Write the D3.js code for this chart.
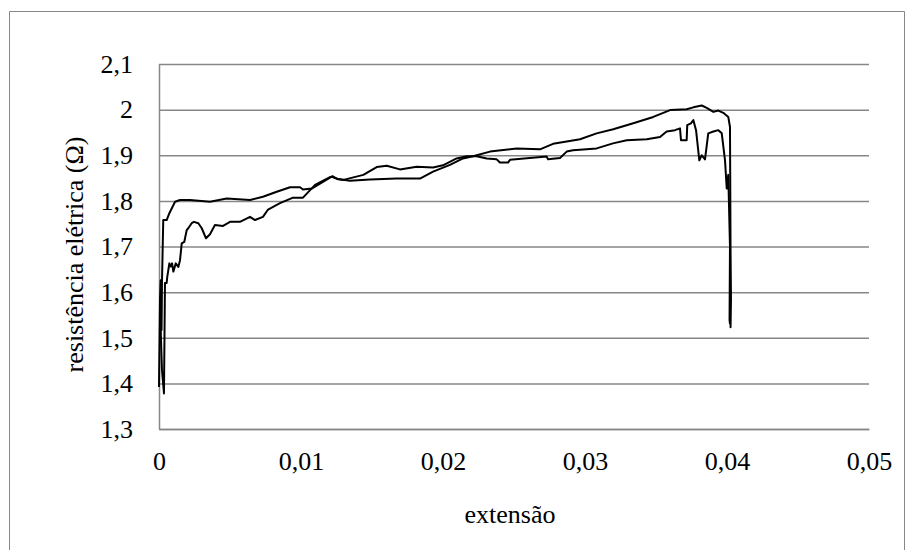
<!DOCTYPE html>
<html>
<head>
<meta charset="utf-8">
<script src="https://cdn.jsdelivr.net/npm/d3@7"></script>
<style>
  body { margin: 0; background: #fff; }
  svg { display: block; font-family: "Liberation Serif", "Times New Roman", serif; }
</style>
</head>
<body>
<svg id="graph" width="911" height="550"></svg>
<script>
// curve that starts higher (ends on top, ~2.0)
const serieA = [
  [0, 1.392], [0.00007, 1.583], [0.00012, 1.626], [0.00018, 1.517], [0.00021, 1.622],
  [0.0003, 1.758], [0.00054, 1.758], [0.00073, 1.773], [0.00113, 1.798], [0.00148, 1.802],
  [0.00218, 1.802], [0.00359, 1.798], [0.00477, 1.805], [0.00641, 1.802], [0.00732, 1.809],
  [0.00829, 1.82], [0.00923, 1.83], [0.00993, 1.83], [0.01014, 1.825], [0.01075, 1.827],
  [0.01134, 1.838], [0.01216, 1.853], [0.01261, 1.848], [0.01345, 1.844], [0.01486, 1.847],
  [0.01674, 1.849], [0.01838, 1.849], [0.0193, 1.864], [0.02049, 1.879], [0.02141, 1.893],
  [0.02211, 1.898], [0.02331, 1.908], [0.02519, 1.915], [0.02683, 1.913], [0.02775, 1.925],
  [0.02871, 1.93], [0.02965, 1.935], [0.03082, 1.948], [0.03199, 1.957], [0.0334, 1.97],
  [0.03481, 1.984], [0.03599, 1.999], [0.03716, 2.001], [0.03763, 2.005], [0.03822, 2.009],
  [0.03857, 2.004], [0.03904, 1.995], [0.03939, 1.998], [0.03974, 1.993], [0.04009, 1.984],
  [0.04021, 1.962], [0.04025, 1.692], [0.04028, 1.582], [0.04025, 1.523], [0.04028, 1.604],
  [0.04026, 1.55]
];

// curve that starts lower (ends with the dips)
const serieB = [
  [0.00007, 1.589], [0.00014, 1.495], [0.00021, 1.429], [0.00035, 1.378], [0.00042, 1.62],
  [0.00054, 1.62], [0.00058, 1.633], [0.00073, 1.663], [0.00082, 1.656], [0.00092, 1.663],
  [0.00101, 1.645], [0.00118, 1.663], [0.00136, 1.655], [0.00148, 1.67], [0.0016, 1.707],
  [0.00178, 1.71], [0.00195, 1.736], [0.00206, 1.74], [0.0023, 1.751], [0.00246, 1.754],
  [0.00277, 1.751], [0.00301, 1.74], [0.00331, 1.718], [0.00359, 1.727], [0.00394, 1.747],
  [0.00451, 1.745], [0.005, 1.754], [0.0057, 1.754], [0.00641, 1.765], [0.00676, 1.758],
  [0.00732, 1.765], [0.00768, 1.781], [0.00852, 1.795], [0.00944, 1.807], [0.01014, 1.807],
  [0.01099, 1.835], [0.01204, 1.852], [0.01225, 1.854], [0.01254, 1.848], [0.01298, 1.846],
  [0.01439, 1.857], [0.01533, 1.874], [0.01604, 1.877], [0.01697, 1.869], [0.01815, 1.875],
  [0.0193, 1.873], [0.02, 1.878], [0.02096, 1.893], [0.02167, 1.898], [0.02237, 1.898],
  [0.02308, 1.893], [0.02378, 1.891], [0.02401, 1.884], [0.02458, 1.884], [0.02472, 1.89],
  [0.0273, 1.897], [0.0274, 1.891], [0.02824, 1.894], [0.02871, 1.908], [0.02915, 1.911],
  [0.03082, 1.915], [0.03197, 1.926], [0.03294, 1.933], [0.03435, 1.935], [0.03528, 1.94],
  [0.03575, 1.952], [0.03634, 1.955], [0.03669, 1.959], [0.03676, 1.933], [0.03716, 1.933],
  [0.0372, 1.966], [0.03746, 1.97], [0.03763, 1.977], [0.03782, 1.955], [0.03805, 1.889],
  [0.03822, 1.9], [0.03845, 1.891], [0.03868, 1.948], [0.03904, 1.952], [0.03939, 1.955],
  [0.03963, 1.948], [0.03986, 1.889], [0.03998, 1.827], [0.04009, 1.857], [0.04021, 1.7],
  [0.04018, 1.539], [0.04021, 1.53]
];

const xTicks = [0, 0.01, 0.02, 0.03, 0.04, 0.05];
const yTicks = [1.3, 1.4, 1.5, 1.6, 1.7, 1.8, 1.9, 2.0, 2.1];
const xTitle = "extensão";
const yTitle = "resistência elétrica (Ω)";

const svg = d3.select("#graph"),
      margin = { top: 64, right: 42, bottom: 121, left: 159 },
      width = +svg.attr("width") - margin.left - margin.right,
      height = +svg.attr("height") - margin.top - margin.bottom;

const fontSize = 26;
const fmt = d => d3.format("")(+d.toFixed(2)).replace(".", ",");

// outer chart frame
svg.append("path")
    .attr("d", "M9.5,560 V11.5 H904.5 V560")
    .attr("fill", "none")
    .attr("stroke", "#878787")
    .attr("stroke-width", 1);

const g = svg.append("g")
    .attr("transform", `translate(${margin.left},${margin.top})`);

const x = d3.scaleLinear().domain([0, 0.05]).range([0, width]);
const y = d3.scaleLinear().domain([1.3, 2.1]).range([height, 0]);

// horizontal gridlines
g.append("g")
    .call(d3.axisLeft(y).tickValues(yTicks).tickSize(-width).tickFormat(""))
    .call(s => s.select(".domain").remove())
    .selectAll("line")
        .attr("stroke", "#878787")
        .attr("stroke-width", 1.5);

// y axis
g.append("g")
    .call(d3.axisLeft(y).tickValues(yTicks).tickSize(0).tickPadding(26).tickFormat(fmt))
    .call(s => s.select(".domain").attr("stroke", "#878787").attr("stroke-width", 1.5))
    .selectAll("text")
        .attr("font-family", "Liberation Serif")
        .attr("font-size", fontSize)
        .attr("fill", "#000");

// x axis
g.append("g")
    .attr("transform", `translate(0,${height})`)
    .call(d3.axisBottom(x).tickValues(xTicks).tickSize(0).tickPadding(23).tickFormat(fmt))
    .call(s => s.select(".domain").attr("stroke", "#878787").attr("stroke-width", 1.5))
    .selectAll("text")
        .attr("font-family", "Liberation Serif")
        .attr("font-size", fontSize)
        .attr("fill", "#000");

// axis titles
g.append("text")
    .attr("x", width / 2 - 4)
    .attr("y", height + 94)
    .attr("text-anchor", "middle")
    .attr("font-size", fontSize)
    .text(xTitle);

g.append("text")
    .attr("transform", "rotate(-90)")
    .attr("x", -height / 2 - 8)
    .attr("y", -76)
    .attr("text-anchor", "middle")
    .attr("font-size", fontSize)
    .text(yTitle);

const line = d3.line()
    .x(d => x(d[0]))
    .y(d => y(d[1]));

[serieA, serieB].forEach(s => {
    g.append("path")
        .datum(s)
        .attr("fill", "none")
        .attr("stroke", "#000")
        .attr("stroke-width", 2)
        .attr("stroke-linejoin", "round")
        .attr("d", line);
});
</script>
</body>
</html>
